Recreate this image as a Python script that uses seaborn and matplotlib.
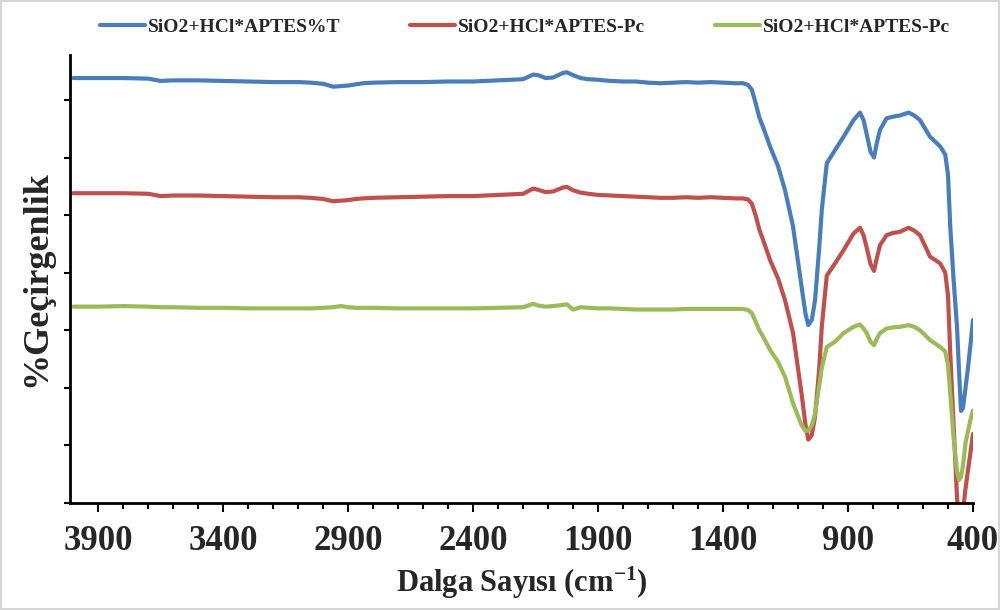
import matplotlib
matplotlib.use("Agg")
import matplotlib.pyplot as plt
from matplotlib.ticker import MultipleLocator, FixedLocator
import seaborn as sns

# FT-IR transmittance spectra (wavenumber in cm-1, transmittance in arbitrary %T units)
wavenumber = [
    4000, 3900, 3800, 3700, 3650, 3600, 3500, 3400, 3300, 3200,
    3100, 3050, 3000, 2960, 2930, 2900, 2870, 2840, 2800, 2700,
    2600, 2500, 2400, 2300, 2200, 2160, 2140, 2110, 2080, 2040,
    2025, 2000, 1970, 1940, 1900, 1850, 1800, 1750, 1700, 1650,
    1600, 1550, 1500, 1450, 1400, 1350, 1320, 1300, 1285, 1270,
    1255, 1240, 1212, 1180, 1152, 1120, 1086, 1070, 1059, 1045,
    1032, 1015, 1005, 985, 952, 918, 878, 852, 838, 825,
    810, 796, 785, 772, 746, 720, 692, 658, 635, 612,
    572, 531, 511, 500, 491, 478, 464, 456, 448, 440,
    430, 420, 410, 400,
]

t_aptes = [
    73.8, 73.8, 73.8, 73.7, 73.3, 73.4, 73.4, 73.3, 73.2, 73.1,
    73.1, 73.0, 72.8, 72.3, 72.4, 72.5, 72.7, 72.9, 73.0, 73.1,
    73.1, 73.2, 73.2, 73.4, 73.6, 74.4, 74.3, 73.8, 73.9, 74.7,
    74.8, 74.3, 73.8, 73.6, 73.5, 73.3, 73.2, 73.2, 73.0, 72.9,
    73.0, 73.1, 73.0, 73.1, 73.0, 72.9, 72.9, 72.6, 71.8, 69.5,
    67.0, 65.3, 61.9, 58.5, 54.3, 48.0, 37.6, 32.8, 30.9, 31.8,
    35.2, 44.5, 50.9, 59.0, 61.3, 63.6, 66.5, 67.8, 66.5, 64.0,
    61.0, 60.0, 62.5, 64.8, 66.8, 67.1, 67.3, 67.8, 67.3, 66.5,
    63.6, 61.9, 60.5, 57.0, 48.0, 39.0, 30.6, 23.0, 16.0, 16.5,
    20.0, 23.5, 27.5, 31.8,
]

t_aptes_pc = [
    53.8, 53.8, 53.8, 53.7, 53.3, 53.4, 53.4, 53.3, 53.2, 53.1,
    53.1, 53.0, 52.8, 52.4, 52.5, 52.6, 52.8, 52.9, 53.0, 53.1,
    53.2, 53.3, 53.3, 53.5, 53.7, 54.6, 54.4, 54.0, 54.1, 54.8,
    54.9, 54.3, 53.9, 53.7, 53.5, 53.4, 53.3, 53.2, 53.1, 53.0,
    53.0, 53.1, 53.0, 53.1, 53.0, 52.9, 52.9, 52.7, 52.0, 50.0,
    47.5, 45.7, 42.2, 39.0, 35.2, 29.5, 19.0, 13.5, 11.0, 11.8,
    15.0, 23.5, 30.6, 39.5, 41.6, 43.9, 46.8, 47.8, 46.5, 44.3,
    41.5, 40.3, 42.5, 44.8, 46.5, 46.9, 47.1, 47.8, 47.3, 46.5,
    42.8, 41.6, 40.0, 36.0, 26.0, 14.0, 1.0, -3.0, -5.0, -1.5,
    2.5, 5.7, 8.8, 12.0,
]

t_aptes_pc_2 = [
    34.1, 34.1, 34.2, 34.1, 34.0, 34.0, 33.9, 33.9, 33.8, 33.8,
    33.8, 33.8, 33.9, 34.0, 34.2, 34.0, 33.9, 33.9, 33.9, 33.8,
    33.8, 33.8, 33.8, 33.9, 34.0, 34.6, 34.3, 34.1, 34.2, 34.4,
    34.5, 33.6, 34.0, 33.9, 33.8, 33.8, 33.7, 33.6, 33.6, 33.6,
    33.6, 33.7, 33.7, 33.7, 33.7, 33.7, 33.7, 33.5, 33.0, 31.5,
    30.0, 28.9, 26.6, 24.5, 21.9, 17.3, 13.5, 12.5, 12.6, 13.5,
    15.5, 20.5, 23.5, 27.1, 28.0, 29.5, 30.6, 31.0, 30.3, 29.5,
    28.0, 27.4, 28.5, 29.5, 30.3, 30.5, 30.6, 30.9, 30.6, 30.0,
    28.3, 27.1, 26.3, 24.0, 19.0, 11.5, 5.5, 4.0, 4.5, 6.5,
    10.4, 12.5, 14.5, 16.1,
]

series = [t_aptes, t_aptes_pc, t_aptes_pc_2]
series_labels = ["SiO2+HCl*APTES%T", "SiO2+HCl*APTES-Pc", "SiO2+HCl*APTES-Pc"]
series_colors = ["#4A7EBB", "#C0504D", "#9BBB59"]
x_major_ticks = [3900, 3400, 2900, 2400, 1900, 1400, 900, 400]

sns.set_style("ticks")
plt.rcParams["font.family"] = ["Liberation Serif", "DejaVu Serif"]
plt.rcParams["font.weight"] = "bold"
plt.rcParams["mathtext.fontset"] = "custom"
plt.rcParams["mathtext.rm"] = "Liberation Serif:bold"
plt.rcParams["mathtext.default"] = "rm"

fig = plt.figure(figsize=(10, 6.1), dpi=100)
fig.patch.set_edgecolor("#d6d6d6")
fig.patch.set_linewidth(1.5)
ax = fig.add_axes([0.07, 0.1754, 0.903, 0.7344])

for values, label, color in zip(series, series_labels, series_colors):
    sns.lineplot(x=wavenumber, y=values, ax=ax, color=color, linewidth=3.0,
                 label=label, sort=False)

ax.set_xlim(4013, 400)
ax.set_ylim(0, 77.8)

ax.xaxis.set_major_locator(FixedLocator(x_major_ticks))
ax.xaxis.set_minor_locator(FixedLocator(list(range(400, 4000, 100))))
ax.yaxis.set_major_locator(MultipleLocator(10))
ax.set_yticklabels([])
ax.tick_params(axis="x", which="major", direction="out", length=6.5, width=1.5,
               color="black", labelsize=25, pad=9)
ax.tick_params(axis="x", which="minor", direction="out", length=4.3, width=1.5,
               color="black")
ax.tick_params(axis="y", which="major", direction="out", length=4.3, width=1.5,
               color="black")
for lbl in ax.get_xticklabels():
    lbl.set_fontweight("bold")

for side in ["top", "right"]:
    ax.spines[side].set_visible(False)
for side in ["left", "bottom"]:
    ax.spines[side].set_linewidth(2.0)
    ax.spines[side].set_color("black")

ax.set_xlabel("Dalga Sayısı (cm$^{-1}$)", fontsize=22, fontweight="bold", labelpad=5)
ax.set_ylabel("%Geçirgenlik", fontsize=26, fontweight="bold", labelpad=4)

handles, labels = ax.get_legend_handles_labels()
ax.get_legend().remove()
fig.legend(handles, labels, ncol=3, loc="center", bbox_to_anchor=(0.525, 0.956),
           frameon=False, handlelength=2.3, handletextpad=0.15, columnspacing=3.6,
           prop={"family": "Liberation Serif", "weight": "bold", "size": 14})

fig.savefig("out.png", dpi=100)
